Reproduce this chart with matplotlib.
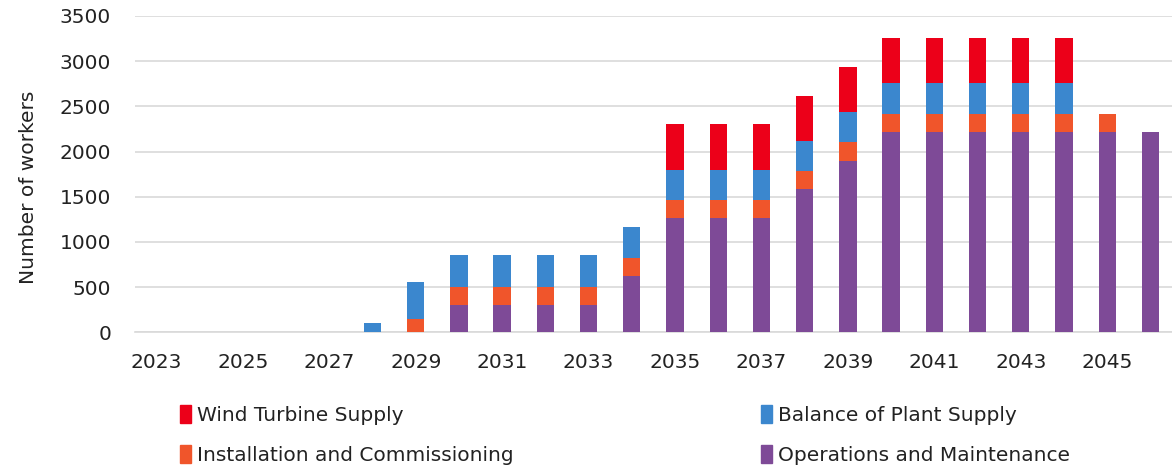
import numpy as np
import matplotlib.pyplot as plt
from matplotlib.patches import Patch

years = list(range(2023, 2047))
wind_turbine = [0, 0, 0, 0, 0, 0, 0, 0, 0, 0, 0, 0,
                500, 500, 500, 500, 500, 500, 500, 500, 500, 500, 0, 0]
balance_of_plant = [0, 0, 0, 0, 0, 100, 410, 345, 345, 345, 345, 340,
                    340, 340, 340, 335, 340, 340, 340, 340, 340, 340, 0, 0]
installation = [0, 0, 0, 0, 0, 0, 150, 200, 200, 200, 200, 200,
                195, 195, 195, 195, 205, 205, 205, 205, 205, 205, 205, 0]
operations = [0, 0, 0, 0, 0, 0, 0, 305, 305, 305, 305, 620,
              1265, 1265, 1265, 1585, 1895, 2215, 2215, 2215, 2215, 2215, 2215, 2215]

series = [
    ("Operations and Maintenance", operations, "#7E4A97"),
    ("Installation and Commissioning", installation, "#F0552B"),
    ("Balance of Plant Supply", balance_of_plant, "#3B87CE"),
    ("Wind Turbine Supply", wind_turbine, "#EC0019"),
]

plt.rcParams['font.family'] = ['DejaVu Sans']
fig = plt.figure(figsize=(11.72, 4.69), dpi=100)
ax = fig.add_axes([0.115, 0.2915, 0.885, 0.6745])

x = np.arange(len(years))
bottom = np.zeros(len(years))
for name, vals, color in series:
    vals = np.array(vals, dtype=float)
    ax.bar(x, vals, width=0.4, bottom=bottom, color=color, zorder=3)
    bottom += vals

ax.set_ylim(0, 3500)
ax.set_xlim(-0.5, len(years) - 0.5)
ax.set_yticks(range(0, 3501, 500))
ax.set_xticks(x[::2])
ax.set_xticklabels([str(y) for y in years[::2]])
ax.tick_params(axis='both', length=0, labelsize=14.5, colors="#222222")
ax.tick_params(axis='y', pad=17)
ax.tick_params(axis='x', pad=15)
ax.grid(axis='y', color="#D9D9D9", linewidth=1.2, zorder=0)
for s in ['top', 'right', 'left']:
    ax.spines[s].set_visible(False)
ax.spines['bottom'].set_color("#D9D9D9")
ax.spines['bottom'].set_linewidth(1.2)

fig.text(0.024, 0.6, "Number of workers", rotation=90, ha='center', va='center',
         fontsize=14.5, color="#222222")

handles = [Patch(color=c) for _, _, c in series]
leg = fig.legend([handles[i] for i in [3, 1, 2, 0]],
                 [series[i][0] for i in [3, 1, 2, 0]],
                 ncol=2, loc='upper left', bbox_to_anchor=(0.138, 0.175),
                 frameon=False, fontsize=14.5, handlelength=0.55, handleheight=1.0,
                 handletextpad=0.3, columnspacing=12.3, labelspacing=1.0)
for t in leg.get_texts():
    t.set_color("#222222")

fig.savefig("out.png", dpi=100)
